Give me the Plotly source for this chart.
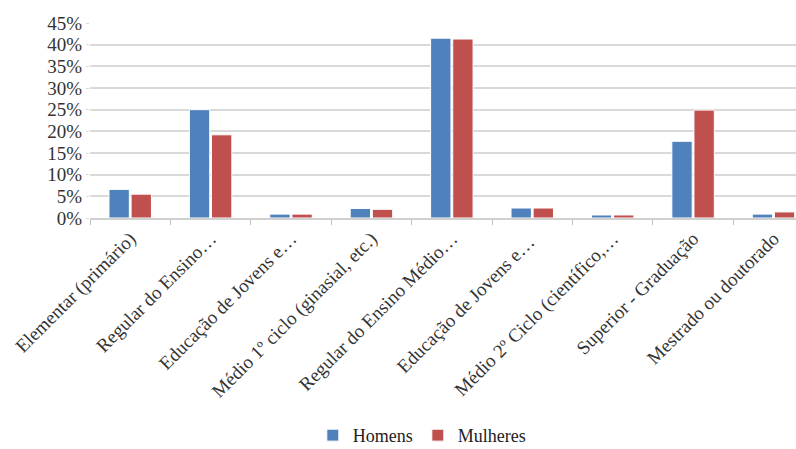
import plotly.graph_objects as go

categories = [
    "Elementar (primário)",
    "Regular do Ensino…",
    "Educação de Jovens e…",
    "Médio 1º ciclo (ginasial, etc.)",
    "Regular do Ensino Médio…",
    "Educação de Jovens e… ",
    "Médio 2º Ciclo (científico,…",
    "Superior - Graduação",
    "Mestrado ou doutorado",
]
homens = [6.6, 25.0, 0.9, 2.2, 41.5, 2.3, 0.7, 17.7, 0.9]
mulheres = [5.5, 19.2, 0.9, 2.0, 41.3, 2.3, 0.7, 24.9, 1.4]
ytick_vals = [0, 5, 10, 15, 20, 25, 30, 35, 40, 45]
ytick_text = [f"{v}%" for v in ytick_vals]

font_family = "Liberation Serif"

fig = go.Figure()
fig.add_trace(go.Bar(name="Homens", x=categories, y=homens,
                     marker=dict(color="#4F81BD", line=dict(color="white", width=1))))
fig.add_trace(go.Bar(name="Mulheres", x=categories, y=mulheres,
                     marker=dict(color="#C0504D", line=dict(color="white", width=1))))

fig.update_layout(
    width=796, height=449,
    margin=dict(l=90, r=0, t=23, b=231, autoexpand=False),
    paper_bgcolor="white", plot_bgcolor="white",
    barmode="group", bargap=0.45, bargroupgap=0.08,
    font=dict(family=font_family, color="#333333", size=16),
    showlegend=True,
    legend=dict(orientation="h", x=0.47, xanchor="center", y=-1.115, yanchor="middle",
                font=dict(size=18, family=font_family, color="#222222"),
                traceorder="normal"),
)
fig.update_xaxes(
    type="category", range=[-0.5, 8.28], tickangle=-45, automargin=False,
    tickson="boundaries", ticks="outside", ticklen=5, tickcolor="#bfbfbf",
    showline=True, linecolor="#d0d0d0", linewidth=2,
    tickfont=dict(size=19, family=font_family, color="#333333"),
    showgrid=False,
)
fig.update_yaxes(
    range=[0, 45], tickvals=ytick_vals, ticktext=ytick_text, automargin=False,
    showgrid=True, gridcolor="#d9d9d9", gridwidth=2,
    ticks="outside", ticklen=3, tickcolor="#d9d9d9",
    showline=False, zeroline=False,
    tickfont=dict(size=19, family=font_family, color="#333333"),
)

fig.write_html("out.html")
